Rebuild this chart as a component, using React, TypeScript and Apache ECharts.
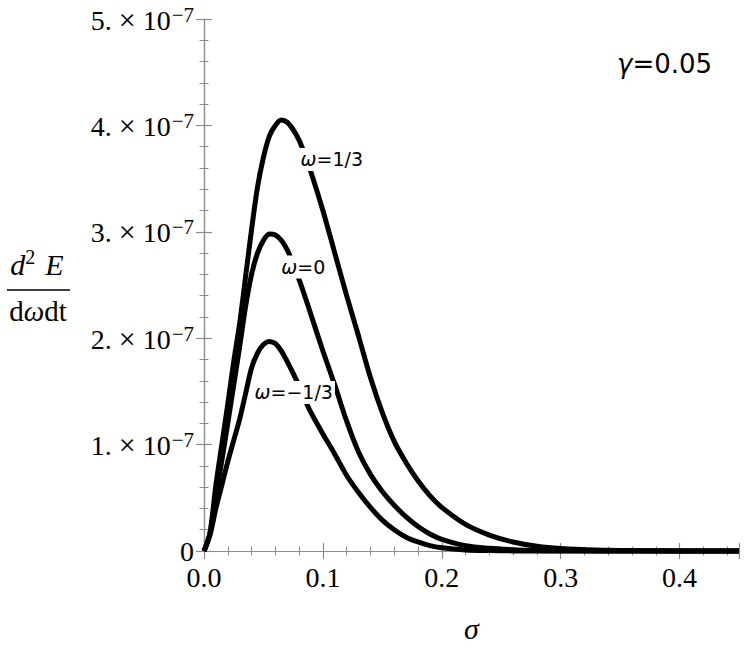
import React, { useEffect, useRef } from "react";
import * as echarts from "echarts";

// sigma values (x axis)
const sigma = [0, 0.005, 0.01, 0.015, 0.02, 0.025, 0.03, 0.035, 0.04, 0.045, 0.05, 0.055, 0.06, 0.065, 0.07, 0.075, 0.08, 0.085, 0.09, 0.1, 0.11, 0.12, 0.13, 0.14, 0.15, 0.16, 0.17, 0.18, 0.19, 0.2, 0.22, 0.24, 0.26, 0.28, 0.3, 0.33, 0.36, 0.4, 0.45];
// d2E/dωdt in units of 1e-7
const omegaPlusThird = [0, 0.17, 0.62, 1.0, 1.38, 1.78, 2.14, 2.58, 3.02, 3.42, 3.7, 3.9, 4.0, 4.05, 4.03, 3.96, 3.86, 3.72, 3.56, 3.2, 2.8, 2.4, 2.02, 1.63, 1.3, 1.03, 0.83, 0.66, 0.52, 0.41, 0.25, 0.15, 0.085, 0.045, 0.024, 0.01, 0.004, 0.001, 0];
const omegaZero = [0, 0.16, 0.52, 0.85, 1.2, 1.56, 1.92, 2.3, 2.6, 2.8, 2.92, 2.98, 2.97, 2.92, 2.83, 2.7, 2.55, 2.39, 2.22, 1.88, 1.56, 1.22, 0.93, 0.72, 0.56, 0.43, 0.32, 0.23, 0.16, 0.11, 0.05, 0.025, 0.012, 0.005, 0.002, 0.001, 0, 0, 0];
const omegaMinusThird = [0, 0.15, 0.4, 0.62, 0.84, 1.04, 1.24, 1.48, 1.72, 1.86, 1.94, 1.97, 1.95, 1.88, 1.78, 1.67, 1.55, 1.42, 1.3, 1.1, 0.91, 0.71, 0.55, 0.41, 0.29, 0.2, 0.13, 0.085, 0.05, 0.03, 0.01, 0.004, 0.001, 0, 0, 0, 0, 0, 0];

const curveLabels = ["1/3", "0", "\u22121/3"];
// label anchor points (data coords)
const labelSigma = [0.1075, 0.0835, 0.0755];
const labelValue = [3.68, 2.67, 1.49];

const xMin = 0, xMax = 0.45, xInterval = 0.1;
const yMin = 0, yMax = 5, yInterval = 1;

const SERIF = "'Liberation Serif', 'Times New Roman', serif";
const SANS = "'DejaVu Sans', 'Liberation Sans', Arial, sans-serif";

export default function App() {
  const ref = useRef<HTMLDivElement>(null);
  useEffect(() => {
    if (!ref.current) return;
    const chart = echarts.init(ref.current, undefined, { renderer: "svg" });
    const axisGray = "#8c8c8c";
    const tickCommon = {
      axisLine: { show: true, lineStyle: { color: axisGray, width: 1.2 } },
      axisTick: { show: true, inside: true, length: 8, lineStyle: { color: axisGray, width: 1.2 } },
      minorTick: { show: true, splitNumber: 5, length: 4.5, lineStyle: { color: axisGray, width: 1 } },
      splitLine: { show: false },
      minorSplitLine: { show: false },
    };
    const series = [omegaPlusThird, omegaZero, omegaMinusThird].map((vals, i) => ({
      type: "line",
      data: sigma.map((s, j) => [s, vals[j]]),
      showSymbol: false,
      symbol: "none",
      smooth: 0.3,
      clip: false,
      lineStyle: { color: "#000", width: 5 },
      z: 2,
      markPoint: {
        symbol: "rect",
        symbolSize: 1,
        itemStyle: { color: "rgba(0,0,0,0)" },
        data: [{ coord: [labelSigma[i], labelValue[i]] }],
        label: {
          show: true,
          position: "inside",
          formatter: `{w|\u03c9}{t|=${curveLabels[i]}}`,
          backgroundColor: "#fff",
          padding: [2, 2, 2, 2],
          rich: {
            w: { fontFamily: SANS, fontStyle: "italic", fontSize: 19, color: "#000" },
            t: { fontFamily: SANS, fontSize: 19, color: "#000" },
          },
        },
      },
    }));
    chart.setOption({
      animation: false,
      grid: { left: 204, right: 11, top: 19, bottom: 93, containLabel: false },
      xAxis: [
        {
          type: "value", min: xMin, max: xMax, interval: xInterval, position: "bottom",
          ...tickCommon,
          axisLabel: {
            show: true, margin: 12, color: "#000", fontFamily: SERIF, fontSize: 28,
            formatter: (v: number) => v.toFixed(1),
            showMaxLabel: false,
          },
          name: "\u03c3", nameLocation: "middle", nameGap: 62,
          nameTextStyle: { fontFamily: SERIF, fontStyle: "italic", fontSize: 30, color: "#000" },
        },
        {
          type: "value", min: xMin, max: xMax, interval: xInterval, position: "top",
          ...tickCommon, axisLabel: { show: false },
        },
      ],
      yAxis: [
        {
          type: "value", min: yMin, max: yMax, interval: yInterval, position: "left",
          ...tickCommon,
          axisLabel: {
            show: true, margin: 10, color: "#000",
            formatter: (v: number) => (v === 0 ? "{z|0}" : `{a|${v}.}{x|\u00d7}{a|10}{s|\u22127}`),
            rich: {
              z: { fontFamily: SERIF, fontSize: 28, color: "#000", lineHeight: 20 },
              a: { fontFamily: SERIF, fontSize: 28, color: "#000", verticalAlign: "bottom", lineHeight: 30 },
              x: { fontFamily: SERIF, fontSize: 30, color: "#000", padding: [0, 7, 0, 7], verticalAlign: "bottom", lineHeight: 30 },
              s: { fontFamily: SERIF, fontSize: 21, color: "#000", verticalAlign: "top", lineHeight: 30, padding: [0, 0, 12, 1] },
            },
          },
        },
        {
          type: "value", min: yMin, max: yMax, interval: yInterval, position: "right",
          ...tickCommon, axisLabel: { show: false },
        },
      ],
      series,
      graphic: [
        {
          type: "text", left: 617, top: 51,
          style: {
            text: "{g|\u03b3}{t|=0.05}",
            rich: {
              g: { fontFamily: SANS, fontStyle: "italic", fontSize: 26, fill: "#000" },
              t: { fontFamily: SANS, fontSize: 26, fill: "#000" },
            },
          },
        },
        {
          type: "text", x: 37, y: 279,
          style: {
            text: "{i|d}{s|2}{e|E}",
            align: "center", verticalAlign: "bottom",
            rich: {
              i: { fontFamily: SERIF, fontStyle: "italic", fontSize: 30, fill: "#000", verticalAlign: "bottom", lineHeight: 32 },
              e: { fontFamily: SERIF, fontStyle: "italic", fontSize: 30, fill: "#000", verticalAlign: "bottom", lineHeight: 32, padding: [0, 0, 0, 10] },
              s: { fontFamily: SERIF, fontSize: 20, fill: "#000", verticalAlign: "top", lineHeight: 32 },
            },
          },
        },
        { type: "line", shape: { x1: 7, y1: 290, x2: 70, y2: 290 }, style: { stroke: "#000", lineWidth: 1.6 } },
        {
          type: "text", x: 38, y: 325,
          style: {
            text: "d{w|\u03c9}dt",
            align: "center", verticalAlign: "bottom",
            fontFamily: SERIF, fontSize: 29, fill: "#000",
            rich: { w: { fontFamily: SERIF, fontStyle: "italic", fontSize: 29, fill: "#000" } },
          },
        },
      ],
    });
    return () => chart.dispose();
  }, []);
  return <div ref={ref} style={{ position: "fixed", left: 0, top: 0, width: 750, height: 648, background: "#fff" }} />;
}
